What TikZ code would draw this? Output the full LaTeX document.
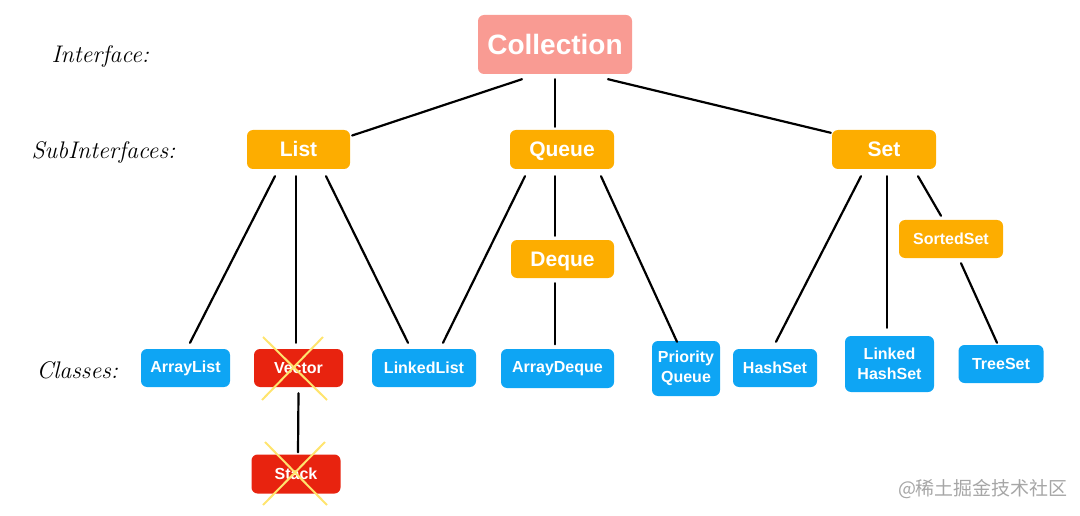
\documentclass[tikz,border=0pt]{standalone}
\usepackage{fontspec}
\setsansfont{Liberation Sans}
\newfontfamily\cjk{Noto Sans CJK SC}
\usetikzlibrary{calc}
\definecolor{pinkbox}{HTML}{F99B93}
\definecolor{orangebox}{HTML}{FDAD00}
\definecolor{bluebox}{HTML}{0EA5F4}
\definecolor{redbox}{HTML}{E8230F}
\definecolor{crossyellow}{HTML}{FFE46E}
\tikzset{
  box/.style={rectangle, rounded corners=6pt, inner sep=0pt, text=white, align=center},
  topbox/.style={box, fill=pinkbox, font=\sffamily\bfseries\fontsize{28}{32}\selectfont},
  subbox/.style={box, fill=orangebox, text height=15pt, text depth=1pt, font=\sffamily\bfseries\fontsize{21}{24}\selectfont},
  sortbox/.style={box, fill=orangebox, font=\sffamily\bfseries\fontsize{16}{20}\selectfont},
  classbox/.style={box, fill=bluebox, font=\sffamily\bfseries\fontsize{16}{20}\selectfont},
  oldbox/.style={box, fill=redbox, font=\sffamily\bfseries\fontsize{16}{20}\selectfont},
  level/.style={anchor=west, font=\itshape\fontsize{24}{28}\selectfont},
  link/.style={line width=2.2pt, line cap=round},
  strike/.style={crossyellow, line width=2pt}
}

\begin{document}
\begin{tikzpicture}[x=1pt,y=-1pt]
  \useasboundingbox (0,0) rectangle (1080,516);
  % level labels
  \node[level] (lifc) at (48,57) {Interface:};
  \node[level] (lsub) at (28,153) {SubInterfaces:};
  \node[level] (lcls) at (33,370) {Classes:};
  % interfaces
  \node[topbox, minimum width=154pt, minimum height=59pt] (collection) at (555,44.5) {Collection};
  \node[subbox, minimum width=103pt, minimum height=39pt] (list) at (298.5,149.5) {List};
  \node[subbox, minimum width=104pt, minimum height=39pt] (queue) at (562,149.5) {Queue};
  \node[subbox, minimum width=104pt, minimum height=39pt] (set) at (884,149.5) {Set};
  \node[subbox, minimum width=103pt, minimum height=38pt] (deque) at (562.5,259) {Deque};
  \node[sortbox, minimum width=104pt, minimum height=38pt] (sortedset) at (951,239) {SortedSet};
  % classes
  \node[classbox, minimum width=89pt, minimum height=38pt] (arraylist) at (185.5,368) {ArrayList};
  \node[oldbox, minimum width=89pt, minimum height=38pt] (vector) at (298.5,368) {Vector};
  \node[classbox, minimum width=104pt, minimum height=38pt] (linkedlist) at (424,368) {LinkedList};
  \node[classbox, minimum width=113pt, minimum height=39pt] (arraydeque) at (557.5,368.5) {ArrayDeque};
  \node[classbox, minimum width=68pt, minimum height=55pt] (prioqueue) at (686,368.5) {Priority\\Queue};
  \node[classbox, minimum width=84pt, minimum height=38pt] (hashset) at (775,368) {HashSet};
  \node[classbox, minimum width=89pt, minimum height=56pt] (linkedhashset) at (889.5,364) {Linked\\HashSet};
  \node[classbox, minimum width=85pt, minimum height=38pt] (treeset) at (1001,364) {TreeSet};
  \node[oldbox, minimum width=89pt, minimum height=39pt] (stack) at (296,474) {Stack};
  % links
  \draw[link] ($(collection.south)+(-33,5)$) -- ($(list.east)+(2,-14)$);
  \draw[link] ($(collection.south)+(0,5)$) -- ($(queue.north)+(-7,-3)$);
  \draw[link] ($(collection.south)+(53,5)$) -- ($(set.north west)+(-1,3)$);
  \draw[link] ($(list.south)+(-23.5,7)$) -- ($(arraylist.north)+(4.5,-6)$);
  \draw[link] ($(list.south)+(-2.5,7)$) -- ($(vector.north)+(-2.5,-6)$);
  \draw[link] ($(list.south)+(27.5,7)$) -- ($(linkedlist.north)+(-16,-6)$);
  \draw[link] ($(queue.south)+(-37,7)$) -- ($(linkedlist.north)+(19,-6)$);
  \draw[link] ($(queue.south)+(-7,7)$) -- ($(deque.north)+(-7.5,-4)$);
  \draw[link] ($(queue.south)+(39,7)$) -- ($(prioqueue.north)+(-9,1)$);
  \draw[link] ($(deque.south)+(-7.5,5)$) -- ($(arraydeque.north)+(-2.5,-4.5)$);
  \draw[link] ($(set.south)+(-23,7)$) -- ($(hashset.north)+(1,-7)$);
  \draw[link] ($(set.south)+(3,7)$) -- ($(linkedhashset.north)+(-2.5,-8)$);
  \draw[link] ($(set.south)+(34,7)$) -- ($(sortedset.north)+(-10,-4)$);
  \draw[link] ($(sortedset.south)+(10,5)$) -- ($(treeset.north)+(-4,-2)$);
  \draw[link] ($(vector.south)+(0,6)$) -- ($(stack.north)+(2,-2)$);
  % deprecated crosses
  \draw[strike] ($(vector)+(-35.5,-31)$) -- ($(vector)+(28.5,32)$);
  \draw[strike] ($(vector)+(24.5,-31)$) -- ($(vector)+(-36.5,32)$);
  \draw[strike] ($(stack)+(-31,-32)$) -- ($(stack)+(31,31)$);
  \draw[strike] ($(stack)+(29,-32)$) -- ($(stack)+(-33,31)$);
  % watermark
  \node[text=black!35, font=\cjk\fontsize{19}{22}\selectfont] (mark) at (983,489) {@稀土掘金技术社区};
\end{tikzpicture}
\end{document}
